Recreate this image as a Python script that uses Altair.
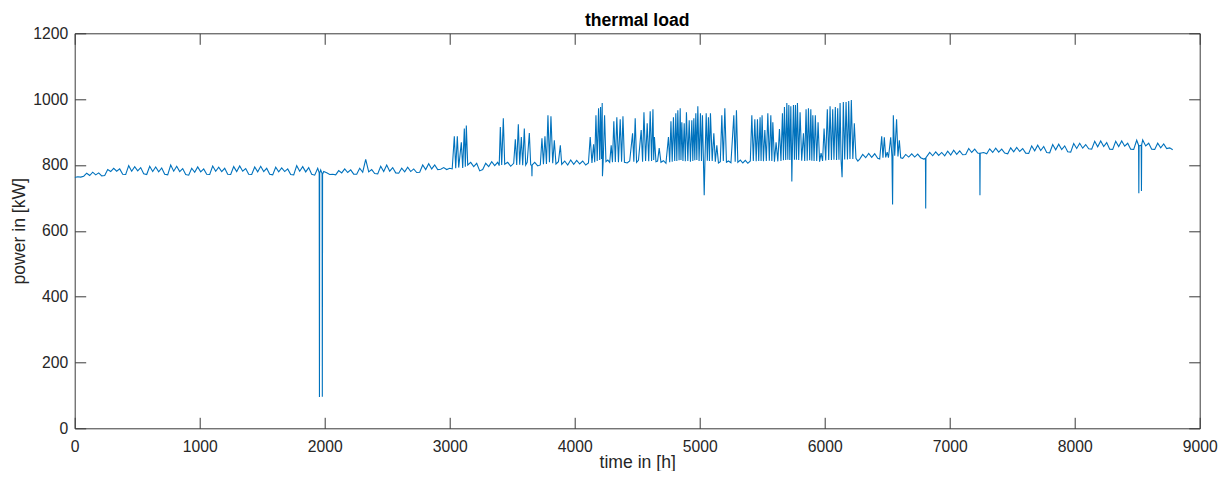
import altair as alt
import pandas as pd

# ---------------- data ----------------
x_ticks = [0, 1000, 2000, 3000, 4000, 5000, 6000, 7000, 8000, 9000]
y_ticks = [0, 200, 400, 600, 800, 1000, 1200]

# January - March: daily samples (hour of year, kW)
hours_a = list(range(0, 1945, 24))
power_a = [762, 764, 763, 766, 775, 768, 778, 770, 776, 767, 768,
           786, 780, 790, 781, 788, 772, 771,
           798, 781, 795, 782, 792, 773, 771,
           796, 780, 794, 779, 791, 772, 770,
           800, 781, 796, 780, 789, 771, 769,
           790, 778, 794, 779, 788, 772, 771,
           797, 781, 793, 780, 790, 772, 771,
           795, 780, 797, 781, 789, 772, 771,
           794, 779, 796, 780, 790, 772, 770,
           793, 779, 791, 780, 788, 771, 770,
           798, 781, 795, 779, 792, 772, 769,
           790]

# the two deep drops near hour 2000
dip_pts = [(1956, 776), (1958, 95), (1960, 775), (1968, 785), (1979, 774),
           (1981, 96), (1983, 772), (1992, 780), (2016, 776), (2040, 771),
           (2064, 772), (2088, 770)]

# April - May: daily samples
hours_c = list(range(2112, 2929, 24))
power_c = [783, 776, 788, 777, 785, 772, 772,
           790, 778, 817, 779, 786, 774, 773,
           796, 780, 800, 781, 792, 776, 775,
           790, 779, 793, 780, 788, 777, 778,
           800, 786, 804, 788, 800, 786, 787]

# May - September: peaky period
summer_pts = [
    (2952, 792), (2976, 786), (3000, 790), (3020, 788), (3037, 887), (3048, 790),
    (3061, 887), (3072, 792), (3093, 869), (3104, 791), (3117, 911), (3125, 795),
    (3133, 920), (3144, 800), (3168, 808), (3192, 795), (3216, 805), (3240, 782),
    (3264, 786), (3288, 805), (3312, 795), (3336, 810), (3360, 798), (3384, 808),
    (3396, 798), (3405, 915), (3416, 800), (3429, 942), (3440, 802), (3464, 808),
    (3488, 796), (3512, 805), (3525, 878), (3536, 800), (3549, 924), (3560, 801),
    (3573, 885), (3584, 799), (3597, 911), (3608, 800), (3620, 808), (3637, 897),
    (3648, 800), (3656, 799), (3658, 766), (3660, 800), (3680, 808), (3704, 797),
    (3725, 800), (3738, 881), (3750, 802), (3762, 887), (3774, 803), (3786, 951),
    (3798, 808), (3810, 948), (3824, 805), (3837, 875), (3850, 803), (3870, 810),
    (3885, 860), (3896, 802), (3920, 812), (3944, 800), (3968, 815), (3992, 802),
    (4016, 814), (4040, 803), (4064, 812), (4088, 800), (4110, 806), (4124, 885),
    (4138, 806), (4151, 863), (4160, 808), (4170, 951), (4180, 812), (4191, 972),
    (4200, 815), (4207, 976), (4214, 818), (4220, 988), (4222, 766), (4228, 812),
    (4239, 951), (4250, 810), (4265, 815), (4280, 808), (4292, 860), (4302, 808),
    (4313, 933), (4325, 809), (4337, 945), (4350, 808), (4364, 939), (4375, 810),
    (4386, 948), (4398, 808), (4420, 806), (4440, 812), (4463, 896), (4473, 810),
    (4484, 942), (4495, 808), (4510, 814), (4532, 906), (4543, 810), (4554, 960),
    (4567, 812), (4580, 927), (4592, 811), (4604, 963), (4615, 812), (4626, 969),
    (4632, 815), (4638, 885), (4650, 810), (4663, 812), (4676, 851), (4690, 808),
    (4710, 813), (4730, 805), (4750, 885), (4760, 808), (4770, 933), (4780, 810),
    (4790, 945), (4800, 812), (4809, 957), (4817, 812), (4825, 966), (4835, 814),
    (4844, 972), (4850, 815), (4857, 930), (4866, 812), (4876, 927), (4885, 811),
    (4894, 960), (4905, 812), (4916, 936), (4926, 810), (4937, 936), (4945, 812),
    (4953, 942), (4961, 814), (4969, 957), (4977, 815), (4985, 978), (4995, 812),
    (5006, 957), (5014, 812), (5022, 951), (5030, 810), (5036, 708), (5042, 812),
    (5052, 957), (5061, 813), (5070, 945), (5078, 812), (5086, 957), (5100, 812),
    (5113, 896), (5125, 810), (5137, 860), (5150, 806), (5165, 810), (5177, 951),
    (5189, 812), (5201, 972), (5214, 808), (5230, 812), (5250, 807), (5273, 951),
    (5284, 810), (5294, 966), (5305, 808), (5325, 815), (5345, 806), (5365, 814),
    (5385, 805), (5405, 812), (5417, 951), (5429, 812), (5441, 939), (5452, 811),
    (5462, 939), (5472, 812), (5483, 945), (5491, 812), (5499, 951), (5510, 811),
    (5521, 906), (5533, 812), (5545, 957), (5557, 813), (5569, 951), (5577, 812),
    (5585, 930), (5598, 810), (5611, 869), (5625, 811), (5638, 909), (5650, 812),
    (5662, 957), (5670, 814), (5678, 976), (5688, 815), (5697, 988), (5705, 816),
    (5713, 982), (5721, 815), (5729, 978), (5735, 815), (5737, 750), (5740, 816),
    (5750, 982), (5758, 816), (5766, 982), (5774, 816), (5782, 988), (5792, 815),
    (5803, 960), (5816, 813), (5830, 896), (5840, 812), (5851, 969), (5860, 813),
    (5870, 972), (5880, 814), (5889, 969), (5897, 813), (5905, 951), (5915, 812),
    (5925, 951), (5936, 812), (5947, 930), (5959, 810), (5971, 836), (5983, 812),
    (5995, 911), (6008, 814), (6021, 969), (6032, 815), (6043, 978), (6054, 815),
    (6064, 969), (6074, 816), (6085, 976), (6095, 815), (6104, 972), (6114, 816),
    (6123, 988), (6131, 816), (6139, 763), (6142, 817), (6149, 991), (6160, 817),
    (6171, 991), (6182, 817), (6192, 994), (6202, 818), (6213, 997), (6225, 818),
    (6237, 927), (6250, 820), (6265, 812), (6280, 818)]

# October - November
autumn_pts = [
    (6304, 832), (6328, 822), (6352, 835), (6376, 823), (6400, 834), (6424, 820),
    (6440, 818), (6456, 887), (6466, 822), (6477, 884), (6488, 823), (6500, 839),
    (6510, 822), (6528, 884), (6538, 825), (6543, 680), (6546, 826), (6549, 951),
    (6560, 828), (6575, 939), (6586, 826), (6597, 875), (6608, 822), (6624, 820),
    (6648, 832), (6672, 824), (6696, 834), (6720, 824), (6744, 833), (6768, 822),
    (6792, 818), (6806, 820), (6808, 668), (6810, 822), (6840, 838), (6864, 828),
    (6888, 840), (6912, 829), (6936, 838), (6960, 828), (6984, 842), (7008, 830),
    (7032, 845), (7056, 832), (7080, 843), (7104, 831), (7128, 832), (7152, 850),
    (7176, 838), (7200, 848), (7224, 836), (7240, 835), (7242, 708), (7244, 836),
    (7272, 838), (7296, 834)]

# November - December
winter_pts = [
    (7320, 849), (7344, 838), (7368, 851), (7392, 839), (7416, 848), (7440, 836), (7464, 834),
    (7488, 852), (7512, 840), (7536, 853), (7560, 841), (7584, 850), (7608, 836), (7632, 835),
    (7656, 858), (7680, 843), (7704, 860), (7728, 844), (7752, 856), (7776, 838), (7800, 837),
    (7824, 862), (7848, 846), (7872, 863), (7896, 847), (7920, 858), (7944, 840), (7968, 839),
    (7992, 865), (8016, 850), (8040, 866), (8064, 851), (8088, 862), (8112, 849), (8136, 848),
    (8160, 872), (8184, 855), (8208, 873), (8232, 856), (8256, 868), (8280, 848), (8304, 847),
    (8328, 872), (8352, 856), (8376, 873), (8400, 857), (8424, 866), (8448, 848), (8472, 847),
    (8496, 875), (8511, 860), (8513, 714), (8515, 858), (8532, 860), (8534, 721), (8536, 862),
    (8544, 876), (8568, 858), (8592, 866), (8616, 848), (8640, 847),
    (8664, 866), (8688, 852), (8712, 864), (8736, 850), (8760, 852), (8784, 846)]

rows = (list(zip(hours_a, power_a)) + dip_pts + list(zip(hours_c, power_c))
        + summer_pts + autumn_pts + winter_pts)
df = pd.DataFrame(rows, columns=["t", "v"])

# ---------------- chart ----------------
W, H = 1125, 395
TICK = 11
FONT = "Liberation Sans"
AX = "#3a3a3a"

xs = alt.Scale(domain=[0, 9000], nice=False, zero=False)
ys = alt.Scale(domain=[0, 1200], nice=False)

main = alt.Chart(df).mark_line(color="#0072BD", strokeWidth=1.1, clip=True).encode(
    x=alt.X("t:Q", scale=xs, title="time in [h]",
            axis=alt.Axis(values=x_ticks, orient="bottom", offset=-TICK, tickSize=TICK,
                          domain=False, grid=False, labelPadding=11, labelFlush=False,
                          labelOverlap=False, format="d", titleY=50,
                          titleBaseline="alphabetic")),
    y=alt.Y("v:Q", scale=ys, title="power in [kW]",
            axis=alt.Axis(values=y_ticks, orient="left", offset=-TICK, tickSize=TICK,
                          domain=False, grid=False, labelPadding=7, labelOverlap=False,
                          format="d", titleX=-61, titleY=H / 2,
                          titleBaseline="alphabetic")),
)

frame = alt.Chart(df).mark_line(strokeOpacity=0).encode(
    x=alt.X("t:Q", scale=xs, title=None,
            axis=alt.Axis(values=x_ticks, orient="top", offset=-TICK, tickSize=TICK,
                          domain=False, grid=False, labels=False)),
    y=alt.Y("v:Q", scale=ys, title=None,
            axis=alt.Axis(values=y_ticks, orient="right", offset=-TICK, tickSize=TICK,
                          domain=False, grid=False, labels=False)),
)

chart = (
    alt.layer(main, frame)
    .resolve_axis(x="independent", y="independent")
    .properties(
        width=W, height=H,
        autosize=alt.AutoSizeParams(type="none"),
        padding={"left": 66.7, "top": 25.3, "right": 23.3, "bottom": 42.7},
        title=alt.Title("thermal load"),
    )
    .configure_view(stroke=AX, strokeWidth=1)
    .configure_axis(labelFont=FONT, labelFontSize=15.7, labelColor="#262626",
                    tickColor=AX, tickWidth=1, titleFont=FONT, titleFontSize=17.6,
                    titleFontWeight="normal", titleColor="#262626")
    .configure_title(font=FONT, fontSize=17.6, fontWeight="bold", color="#000000",
                     anchor="middle", offset=-4)
)

chart.save("out.html", embed_options={"renderer": "svg", "actions": False})
